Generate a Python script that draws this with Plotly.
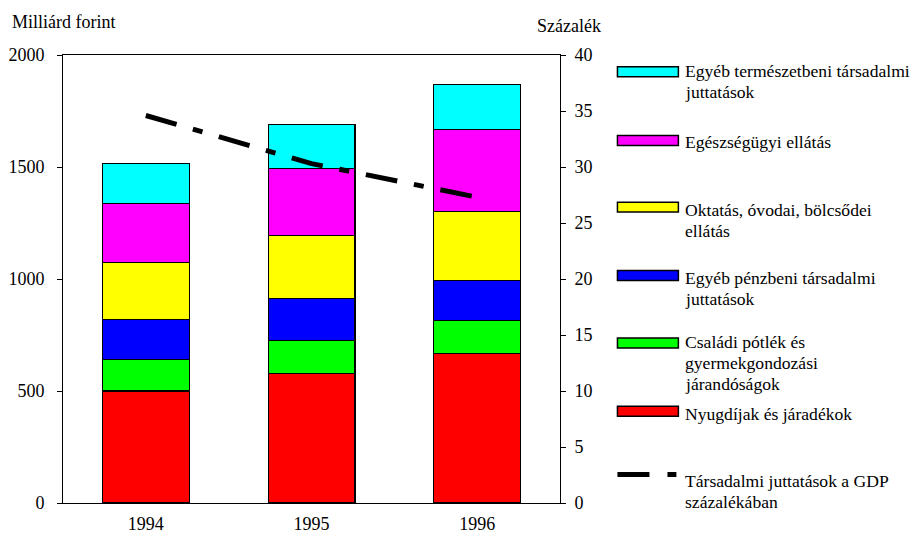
import plotly.graph_objects as go

# ---------------- data ----------------
years = ["1994", "1995", "1996"]
nyugdij = [500, 579, 667]          # Nyugdíjak és járadékok (red)
csaladi = [140, 147, 147]          # Családi pótlék ... (green)
egyeb_penz = [178, 187, 181]       # Egyéb pénzbeni társadalmi juttatások (blue)
oktatas = [257, 283, 307]          # Oktatás, óvodai, bölcsődei ellátás (yellow)
egeszseg = [262, 299, 365]         # Egészségügyi ellátás (magenta)
egyeb_term = [178, 193, 200]       # Egyéb természetbeni társadalmi juttatások (cyan)
gdp_pct = [34.6, 30.3, 27.3]       # Társadalmi juttatások a GDP százalékában

left_ticks = [0, 500, 1000, 1500, 2000]
right_ticks = [0, 5, 10, 15, 20, 25, 30, 35, 40]

series = [
    ("Nyugdíjak és járadékok", nyugdij, "#FF0000"),
    ("Családi pótlék és gyermekgondozási járandóságok", csaladi, "#00FF00"),
    ("Egyéb pénzbeni társadalmi juttatások", egyeb_penz, "#0000FF"),
    ("Oktatás, óvodai, bölcsődei ellátás", oktatas, "#FFFF00"),
    ("Egészségügyi ellátás", egeszseg, "#FF00FF"),
    ("Egyéb természetbeni társadalmi juttatások", egyeb_term, "#00FFFF"),
]

legend_items = [
    (["Egyéb természetbeni társadalmi", "juttatások"], "#00FFFF", 71.7, 77.3),
    (["Egészségügyi ellátás"], "#FF00FF", 140.7, 148.3),
    (["Oktatás, óvodai, bölcsődei", "ellátás"], "#FFFF00", 207.3, 215.7),
    (["Egyéb pénzbeni társadalmi", "juttatások"], "#0000FF", 275.7, 284.3),
    (["Családi pótlék és", "gyermekgondozási", "járandóságok"], "#00FF00", 343.3, 348.3),
    (["Nyugdíjak és járadékok"], "#FF0000", 411.7, 420.0),
]
line_legend = (["Társadalmi juttatások a GDP", "százalékában"], 475.0, 487.3)

# ---------------- layout geometry ----------------
W, H = 918, 534
PX0, PX1, PY0, PY1 = 63, 560.5, 55, 503.5
FONT = "Liberation Serif, Times New Roman, serif"
FS = 18
LFS = 17.6


def px(x):
    return (x - PX0) / (PX1 - PX0)


def py(y):
    return (PY1 - y) / (PY1 - PY0)


fig = go.Figure()
for name, vals, col in series:
    fig.add_trace(go.Bar(
        x=years, y=vals, name=name, marker=dict(color=col, line=dict(color="black", width=1.2)),
        width=0.524, showlegend=False,
    ))

fig.add_trace(go.Scatter(
    x=years, y=gdp_pct, yaxis="y2", mode="lines", showlegend=False,
    line=dict(color="black", width=5, dash="32px,17px,10px,17px"),
))

annotations = []
shapes = []

# axis titles
annotations.append(dict(text="Milliárd forint", x=px(10), y=py(21.5), xref="paper", yref="paper",
                        xanchor="left", yanchor="middle", showarrow=False,
                        font=dict(family=FONT, size=FS, color="black")))
annotations.append(dict(text="Százalék", x=px(535), y=py(26), xref="paper", yref="paper",
                        xanchor="left", yanchor="middle", showarrow=False,
                        font=dict(family=FONT, size=FS, color="black")))

LH = 21.0
TX = 684
for lines, col, sy, base in legend_items:
    shapes.append(dict(type="rect", xref="paper", yref="paper",
                       x0=px(618), x1=px(679), y0=py(sy - 5), y1=py(sy + 5),
                       fillcolor=col, line=dict(color="black", width=1.5)))
    for i, t in enumerate(lines):
        annotations.append(dict(text=t, x=px(TX), y=py(base - 6 + i * LH), xref="paper", yref="paper",
                                xanchor="left", yanchor="middle", showarrow=False,
                                font=dict(family=FONT, size=LFS, color="black")))

lines, sy, base = line_legend
shapes.append(dict(type="line", xref="paper", yref="paper", x0=px(618), x1=px(677),
                   y0=py(sy), y1=py(sy), line=dict(color="black", width=5, dash="32px,18px,9px,18px")))
for i, t in enumerate(lines):
    annotations.append(dict(text=t, x=px(TX), y=py(base - 6 + i * LH), xref="paper", yref="paper",
                            xanchor="left", yanchor="middle", showarrow=False,
                            font=dict(family=FONT, size=LFS, color="black")))

fig.update_layout(
    width=W, height=H,
    margin=dict(l=PX0, r=W - PX1, t=PY0, b=H - PY1, pad=0, autoexpand=False),
    barmode="stack",
    paper_bgcolor="white", plot_bgcolor="white",
    font=dict(family=FONT, size=FS, color="black"),
    showlegend=False,
    xaxis=dict(type="category", range=[-0.5, 2.5], showline=True, mirror=True, linecolor="black",
               linewidth=1, ticks="", showgrid=False, zeroline=False, ticklabelstandoff=4,
               automargin=False, tickfont=dict(family=FONT, size=FS, color="black")),
    yaxis=dict(range=[0, 2000], tickvals=left_ticks, ticks="outside", ticklen=5, tickcolor="black",
               showline=True, linecolor="black", linewidth=1, showgrid=False, zeroline=False,
               automargin=False, ticklabelstandoff=9, tickfont=dict(family=FONT, size=FS, color="black")),
    yaxis2=dict(range=[0, 40], tickvals=right_ticks, overlaying="y", side="right", ticks="outside",
                ticklen=5, tickcolor="black", showline=True, linecolor="black", linewidth=1,
                showgrid=False, zeroline=False, ticklabelstandoff=5, automargin=False,
                tickfont=dict(family=FONT, size=FS, color="black")),
    annotations=annotations,
    shapes=shapes,
)

fig.write_html("out.html", config={"displayModeBar": False},
               post_script="document.body.style.margin='0px';document.body.style.overflow='hidden';")
